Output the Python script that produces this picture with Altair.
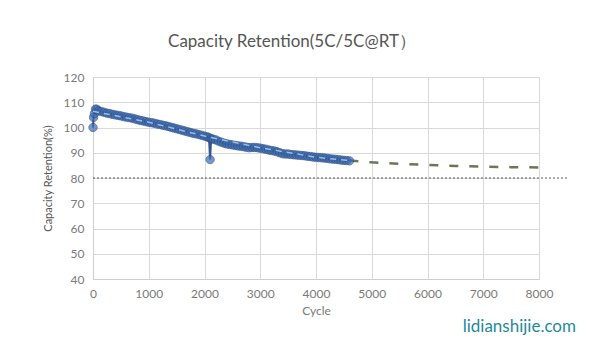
import altair as alt
import pandas as pd

cycles = [0, 10, 25, 45, 70, 100, 150, 200, 250, 300, 350, 400, 450, 500, 550, 600,
          650, 700, 750, 800, 850, 900, 950, 1000, 1050, 1100, 1150, 1200, 1250, 1300,
          1350, 1400, 1450, 1500, 1550, 1600, 1650, 1700, 1750, 1800, 1850, 1900, 1950,
          2000, 2050, 2080, 2100, 2120, 2150, 2200, 2250, 2300, 2350, 2400, 2450, 2500,
          2550, 2600, 2650, 2700, 2750, 2800, 2850, 2900, 2950, 3000, 3050, 3100, 3150,
          3200, 3250, 3300, 3350, 3400, 3450, 3500, 3550, 3600, 3650, 3700, 3750, 3800,
          3850, 3900, 3950, 4000, 4050, 4100, 4150, 4200, 4250, 4300, 4350, 4400, 4450,
          4500, 4550, 4600]
retention = [100, 104, 105.5, 107.3, 107.2, 106.6, 106.3, 106.0, 105.7, 105.5, 105.2,
             105.0, 104.8, 104.6, 104.3, 104.1, 103.9, 103.7, 103.4, 103.1, 102.8,
             102.6, 102.3, 102.1, 101.9, 101.7, 101.4, 101.2, 100.9, 100.7, 100.4,
             100.1, 99.8, 99.5, 99.2, 98.9, 98.6, 98.3, 98.0, 97.7, 97.5, 97.2, 96.9,
             96.6, 96.3, 96.0, 87.3, 95.6, 95.4, 95.1, 94.6, 94.2, 93.8, 93.5, 93.3,
             93.1, 92.9, 92.7, 92.6, 92.4, 92.2, 92.0, 92.1, 92.1, 92.0, 91.8, 91.6,
             91.4, 91.1, 90.9, 90.7, 90.4, 90.0, 89.6, 89.5, 89.5, 89.3, 89.2, 89.1,
             89.0, 88.9, 88.8, 88.6, 88.5, 88.3, 88.2, 88.1, 88.0, 87.9, 87.8, 87.6,
             87.5, 87.4, 87.3, 87.1, 87.0, 86.9, 86.8]

# light trend line running inside the measured band
trend_cycles = [0, 1000, 2000, 3000, 4000, 4600]
trend_values = [106.4, 102.1, 96.6, 92.0, 88.2, 86.9]

# projected (extrapolated) curve
proj_cycles = [4600, 5000, 5500, 6000, 6500, 7000, 7500, 8000]
proj_values = [86.9, 86.2, 85.6, 85.2, 84.8, 84.5, 84.3, 84.2]

# 80 % end-of-life reference
eol_value = [80]

x_ticks = [0, 1000, 2000, 3000, 4000, 5000, 6000, 7000, 8000]
y_ticks = [40, 50, 60, 70, 80, 90, 100, 110, 120]

meas = pd.DataFrame({"Cycle": cycles, "Retention": retention})
trend = pd.DataFrame({"Cycle": trend_cycles, "Retention": trend_values})
proj = pd.DataFrame({"Cycle": proj_cycles, "Retention": proj_values})
eol = pd.DataFrame({"Retention": eol_value, "x0": [0], "x1": [8500]})

FONT = "Lato"
GREY = "#7a7a7a"

xscale = alt.Scale(domain=[0, 8000], nice=False)
yscale = alt.Scale(domain=[40, 120], nice=False)

xaxis = alt.Axis(values=x_ticks, format="d", title="Cycle", grid=True,
                 gridColor="#d9d9d9", domainColor="#cfcfcf", ticks=False,
                 labelPadding=9, labelFlush=False, labelOverlap=False,
                 labelColor=GREY, labelFont=FONT, labelFontSize=12,
                 titleColor=GREY, titleFont=FONT, titleFontSize=12,
                 titleFontWeight="normal", titlePadding=6)
yaxis = alt.Axis(values=y_ticks, title="Capacity Retention(%)", grid=True,
                 gridColor="#d9d9d9", domainColor="#cfcfcf", ticks=False,
                 labelPadding=9, labelColor=GREY, labelFont=FONT, labelFontSize=12,
                 labelFlush=False, labelOverlap=False,
                 titleColor="#555555", titleFont=FONT, titleFontSize=11,
                 titleFontWeight="normal", titlePadding=10)

base_x = alt.X("Cycle:Q", scale=xscale, axis=xaxis)
base_y = alt.Y("Retention:Q", scale=yscale, axis=yaxis)

eol_rule = alt.Chart(eol).mark_rule(color="#555555", strokeDash=[2, 2],
                                    strokeWidth=1).encode(
    x=alt.X("x0:Q", scale=xscale, axis=xaxis),
    x2="x1:Q",
    y=alt.Y("Retention:Q", scale=yscale, axis=yaxis),
)

proj_line = alt.Chart(proj).mark_line(color="#6b7656", strokeWidth=2.5,
                                      strokeDash=[9, 11]).encode(x=base_x, y=base_y)

meas_line = alt.Chart(meas).mark_line(color="#34598f", strokeWidth=2).encode(
    x=base_x, y=base_y)
meas_pts = alt.Chart(meas).mark_point(filled=True, shape="circle", size=70,
                                      color="#3d6aae", stroke="#2b4f86",
                                      strokeWidth=1).encode(x=base_x, y=base_y)

trend_line = alt.Chart(trend).mark_line(color="#9dbbe2", strokeWidth=1.5,
                                        strokeDash=[6, 5]).encode(x=base_x, y=base_y)

watermark = alt.Chart(pd.DataFrame({"t": ["lidianshijie.com"]})).mark_text(
    text="lidianshijie.com", font=FONT, fontSize=17, color="#1f8a9c",
    align="right", baseline="alphabetic").encode(
    x=alt.value(483), y=alt.value(255))

chart = alt.layer(eol_rule, proj_line, meas_line, meas_pts, trend_line, watermark).properties(
    width=446, height=202,
    title=alt.TitleParams("Capacity Retention(5C/5C@RT）", font=FONT, fontSize=17,
                          fontWeight="normal", color="#555555", anchor="middle",
                          dx=-24, offset=20),
    autosize=alt.AutoSizeParams(type="none"),
    padding={"left": 85, "top": 69, "right": 53, "bottom": 70},
).configure_view(stroke=None).configure(background="white")

chart.save("out.html", embed_options={"renderer": "svg", "actions": False})
